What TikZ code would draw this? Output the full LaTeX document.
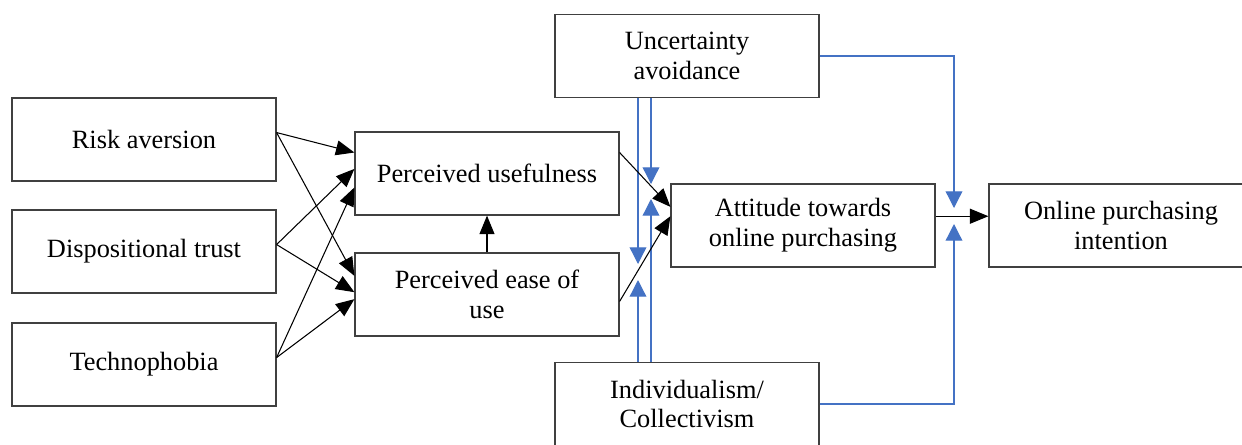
\documentclass[tikz,border=0pt]{standalone}
\usepackage{fontspec}
\setmainfont{Liberation Serif}
\usetikzlibrary{arrows.meta}
\definecolor{modblue}{RGB}{68,114,196}
\tikzstyle{block} = [rectangle, draw=black!75, line width=0.7pt, minimum width=5.28cm, minimum height=1.66cm, inner sep=0pt, align=center]
\tikzstyle{link} = [-{Triangle[length=10.5pt,width=8.5pt]}, line width=0.6pt]
\tikzstyle{mod} = [-{Triangle[length=9.5pt,width=9.5pt]}, draw=modblue, line width=0.75pt]

\begin{document}
\begin{tikzpicture}[x=0.02cm, y=-0.02cm, font=\fontsize{15}{17}\selectfont]
\useasboundingbox (0,0) rectangle (1242,444);

\node[block] (risk) at (144, 139.5) {Risk aversion};
\node[block] (trust) at (144, 251.5) {Dispositional trust};
\node[block] (techno) at (144, 364.5) {Technophobia};
\node[block] (useful) at (487, 173.5) {Perceived usefulness};
\node[block] (ease) at (487, 294.5) {Perceived ease of \\ use};
\node[block] (uncert) at (687, 56) {Uncertainty \\ avoidance};
\node[block] (attitude) at (803, 225.5) {Attitude towards \\ online purchasing};
\node[block] (intention) at (1121, 225.5) {Online purchasing \\ intention};
\node[block] (indiv) at (687, 404) {Individualism/ \\ Collectivism};

% moderator targets
\coordinate (m1) at (651, 184);
\coordinate (m2) at (638, 264);
\coordinate (m3) at (651, 199);
\coordinate (m4) at (638, 280);
\coordinate (m5) at (954, 208);
\coordinate (m6) at (954, 224);

\draw [mod] (uncert.south -| m1) -- (m1);
\draw [mod] (uncert.south -| m2) -- (m2);
\draw [mod] (indiv.north -| m3) -- (m3);
\draw [mod] (indiv.north -| m4) -- (m4);
\draw [mod] (uncert.east) -| (m5);
\draw [mod] (indiv.east) -| (m6);

\draw [link] (risk.3) -- (useful.171);
\draw [link] (risk.3) -- (ease.172);
\draw [link] (trust.3) -- (useful.178);
\draw [link] (trust.3) -- (ease.179);
\draw [link] (techno.3) -- (useful.186);
\draw [link] (techno.3) -- (ease.182);
\draw [link] (ease.north) -- (useful.south);
\draw [link] (useful.9) -- (attitude.172);
\draw [link] (ease.-3) -- (attitude.176);
\draw [link] (attitude.4.5) -- (attitude.4.5 -| intention.west);

\end{tikzpicture}
\end{document}
